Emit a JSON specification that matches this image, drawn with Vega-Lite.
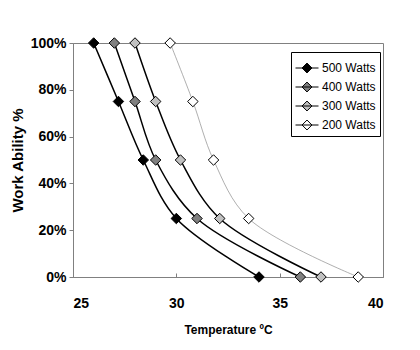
{
  "$schema": "https://vega.github.io/schema/vega-lite/v6.json",
  "width": 310,
  "height": 234,
  "autosize": {"type": "none"},
  "padding": {"left": 73, "top": 43, "right": 37, "bottom": 73},
  "background": "white",
  "config": {
    "font": "Liberation Sans",
    "view": {"stroke": "#808080", "strokeWidth": 1},
    "axis": {"grid": false, "domainColor": "#808080", "tickColor": "#808080", "labelFont": "Liberation Sans", "titleFont": "Liberation Sans"}
  },
  "data": {
    "values": [
      {"series": "500 Watts", "temp": 26.0, "ability": 1.0},
      {"series": "500 Watts", "temp": 27.2, "ability": 0.75},
      {"series": "500 Watts", "temp": 28.4, "ability": 0.5},
      {"series": "500 Watts", "temp": 30.0, "ability": 0.25},
      {"series": "500 Watts", "temp": 34.0, "ability": 0.0},
      {"series": "400 Watts", "temp": 27.0, "ability": 1.0},
      {"series": "400 Watts", "temp": 28.0, "ability": 0.75},
      {"series": "400 Watts", "temp": 29.0, "ability": 0.5},
      {"series": "400 Watts", "temp": 31.0, "ability": 0.25},
      {"series": "400 Watts", "temp": 36.0, "ability": 0.0},
      {"series": "300 Watts", "temp": 28.0, "ability": 1.0},
      {"series": "300 Watts", "temp": 29.0, "ability": 0.75},
      {"series": "300 Watts", "temp": 30.2, "ability": 0.5},
      {"series": "300 Watts", "temp": 32.1, "ability": 0.25},
      {"series": "300 Watts", "temp": 37.0, "ability": 0.0},
      {"series": "200 Watts", "temp": 29.7, "ability": 1.0},
      {"series": "200 Watts", "temp": 30.8, "ability": 0.75},
      {"series": "200 Watts", "temp": 31.8, "ability": 0.5},
      {"series": "200 Watts", "temp": 33.5, "ability": 0.25},
      {"series": "200 Watts", "temp": 38.8, "ability": 0.0}
    ]
  },
  "encoding": {
    "x": {
      "field": "temp", "type": "quantitative",
      "scale": {"domain": [25, 40], "nice": false, "zero": false},
      "axis": {
        "values": [25, 30, 35, 40], "title": "Temperature ºC",
        "tickSize": -4, "labelPadding": 23, "labelFontSize": 14, "labelFontWeight": "bold", "labelColor": "black",
        "titleFontSize": 12, "titleFontWeight": "bold", "titleColor": "black", "titlePadding": 14
      }
    },
    "y": {
      "field": "ability", "type": "quantitative",
      "scale": {"domain": [0, 1], "nice": false},
      "axis": {
        "values": [0, 0.2, 0.4, 0.6, 0.8, 1.0], "format": ".0%", "title": "Work Ability %",
        "tickSize": 4, "labelPadding": 3, "labelFontSize": 14, "labelFontWeight": "bold", "labelColor": "black",
        "titleFontSize": 15, "titleFontWeight": "bold", "titleColor": "black", "titlePadding": 5
      }
    }
  },
  "layer": [
    {
      "mark": {"type": "line", "interpolate": "catmull-rom"},
      "encoding": {
        "detail": {"field": "series"},
        "stroke": {"condition": {"test": "datum.series === '200 Watts'", "value": "#8c8c8c"}, "value": "black"},
        "strokeWidth": {"condition": {"test": "datum.series === '200 Watts'", "value": 0.7}, "value": 1.5}
      }
    },
    {
      "mark": {"type": "point", "shape": "diamond", "filled": true, "size": 110, "stroke": "black", "strokeWidth": 1, "opacity": 1},
      "encoding": {
        "fill": {"field": "series", "type": "nominal",
          "scale": {"domain": ["500 Watts", "400 Watts", "300 Watts", "200 Watts"], "range": ["black", "#808080", "#c0c0c0", "white"]},
          "legend": {
            "title": null, "orient": "none", "legendX": 218, "legendY": 9,
            "strokeColor": "black", "fillColor": "white", "padding": 4,
            "symbolType": "M-1,0H1M-0.43,0L0,-0.43L0.43,0L0,0.43Z",
            "symbolSize": 529, "symbolStrokeColor": "black", "symbolStrokeWidth": 1, "symbolOpacity": 1,
            "labelFontSize": 12, "labelColor": "black", "labelOffset": 3, "rowPadding": -3
          }
        }
      }
    }
  ]
}
